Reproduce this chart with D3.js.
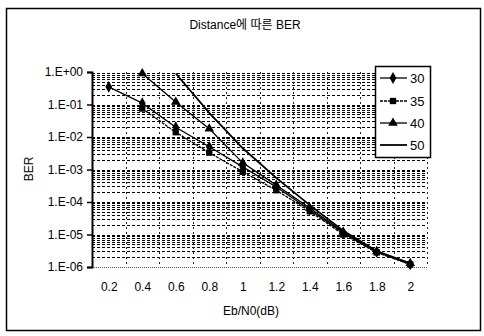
<!DOCTYPE html>
<html><head><meta charset="utf-8">
<script src="https://cdn.jsdelivr.net/npm/d3@7"></script>
<style>body{margin:0;background:#fff}svg{display:block}text{font-family:"Liberation Sans",Arial,sans-serif;fill:#000}</style>
</head><body><svg id="c" width="484" height="336"></svg>
<script>
const ebn0 = [0.2,0.4,0.6,0.8,1.0,1.2,1.4,1.6,1.8,2.0];
const xTickLabels = ["0.2","0.4","0.6","0.8","1","1.2","1.4","1.6","1.8","2"];
const yTickLabels = ["1.E+00","1.E-01","1.E-02","1.E-03","1.E-04","1.E-05","1.E-06"];
const seriesNames = ["30","35","40","50"];
const ber30 = [3.5e-1,1.1e-1,2.0e-2,5.0e-3,1.2e-3,2.9e-4,5.8e-5,1.1e-5,2.9e-6,1.2e-6];
const ber35 = [null,7.5e-2,1.4e-2,3.3e-3,8.5e-4,2.3e-4,5.2e-5,1.0e-5,2.8e-6,1.2e-6];
const ber40 = [null,9.0e-1,1.2e-1,1.8e-2,1.6e-3,3.3e-4,6.5e-5,1.2e-5,3.0e-6,1.3e-6];
const ber50 = [null,null,9.0e-1,5.5e-2,4.5e-3,5.5e-4,8.0e-5,1.3e-5,3.1e-6,1.3e-6];
const titleText = "Distance에 따른 BER";
const xTitle = "Eb/N0(dB)";
const yTitle = "BER";

const svg = d3.select("#c");
const L=92, R=427, T=72, B=267;
const x = d3.scaleLinear().domain([0.1,2.1]).range([L,R]);
const y = d3.scaleLog().domain([1e-6,1]).range([B,T]);

svg.append("rect").attr("x",6.5).attr("y",8.5).attr("width",474).attr("height",322)
  .attr("fill","none").attr("stroke","#000").attr("stroke-width",1.5);

// horizontal gridlines
const hvals=[];
for(let n=-6;n<0;n++){for(let k=1;k<10;k++){const v=k*Math.pow(10,n); if(v>1e-6) hvals.push(v);}}
svg.append("g").selectAll("line").data(hvals).join("line")
  .attr("x1",L).attr("x2",R).attr("y1",d=>Math.round(y(d))+0.5).attr("y2",d=>Math.round(y(d))+0.5)
  .attr("stroke","#000").attr("stroke-width",1).attr("stroke-dasharray","3,2");
// vertical gridlines
const vvals=d3.range(1,11).map(i=>0.1+0.2*i);
svg.append("g").selectAll("line").data(vvals).join("line")
  .attr("x1",d=>Math.round(x(d))+0.5).attr("x2",d=>Math.round(x(d))+0.5).attr("y1",T).attr("y2",B)
  .attr("stroke","#222").attr("stroke-width",1).attr("stroke-dasharray","2,3");
// bottom axis (dotted)
svg.append("line").attr("x1",L).attr("x2",R).attr("y1",B+0.5).attr("y2",B+0.5)
  .attr("stroke","#555").attr("stroke-dasharray","1,1");

// y axis
const yAxis = d3.axisLeft(y).tickValues(d3.range(0,7).map(i=>Math.pow(10,-i)))
  .tickFormat((d,i)=>yTickLabels[i]).tickSize(5).tickPadding(4);
const gy = svg.append("g").attr("transform",`translate(${L},0)`).call(yAxis);
gy.select(".domain").attr("stroke","#000").attr("stroke-width",2);
gy.selectAll(".tick line").attr("stroke","#000").attr("stroke-width",1.5);
gy.selectAll("text").attr("font-size",12).attr("font-family","Liberation Sans, Arial, sans-serif");

// x axis labels
const xAxis = d3.axisBottom(x).tickValues(ebn0).tickFormat((d,i)=>xTickLabels[i]).tickSize(0).tickPadding(15);
const gx = svg.append("g").attr("transform",`translate(0,${B})`).call(xAxis);
gx.select(".domain").remove();
gx.selectAll("text").attr("font-size",12).attr("font-family","Liberation Sans, Arial, sans-serif");

// series
const series=[
  {name:seriesNames[0],vals:ber30,marker:d3.symbolDiamond,dash:null,w:1.3},
  {name:seriesNames[1],vals:ber35,marker:d3.symbolSquare,dash:"3,1",w:1.3},
  {name:seriesNames[2],vals:ber40,marker:d3.symbolTriangle,dash:null,w:1.3},
  {name:seriesNames[3],vals:ber50,marker:null,dash:null,w:1.8}
];
const line=d3.line().defined(d=>d[1]!=null).x(d=>x(d[0])).y(d=>y(d[1]));
series.forEach(s=>{
  const pts=ebn0.map((e,i)=>[e,s.vals[i]]);
  svg.append("path").datum(pts).attr("d",line).attr("fill","none").attr("stroke","#000")
    .attr("stroke-width",s.w).attr("stroke-dasharray",s.dash);
  if(s.marker){
    svg.append("g").selectAll("path").data(pts.filter(p=>p[1]!=null)).join("path")
      .attr("transform",p=>`translate(${x(p[0])},${y(p[1])})`)
      .attr("d",d3.symbol().type(s.marker).size(40)).attr("fill","#000");
  }
});

// legend
const lg=svg.append("g");
lg.append("rect").attr("x",375.5).attr("y",66.5).attr("width",55).attr("height",91)
  .attr("fill","#fff").attr("stroke","#000").attr("stroke-width",1.5);
const ly=[78,101,123,145];
series.forEach((s,i)=>{
  lg.append("line").attr("x1",380).attr("x2",407).attr("y1",ly[i]).attr("y2",ly[i])
    .attr("stroke","#000").attr("stroke-width",s.w).attr("stroke-dasharray",s.dash);
  if(s.marker) lg.append("path").attr("transform",`translate(393,${ly[i]})`)
    .attr("d",d3.symbol().type(s.marker).size(40)).attr("fill","#000");
  lg.append("text").attr("x",410).attr("y",ly[i]).attr("dy","0.36em").attr("font-size",13).text(s.name);
});

// titles
svg.append("text").attr("x",245).attr("y",29).attr("text-anchor","middle").attr("font-size",12)
  .style("font-family","'Liberation Sans', 'Noto Sans CJK KR', sans-serif").text(titleText);
svg.append("text").attr("x",251).attr("y",315).attr("text-anchor","middle").attr("font-size",12).text(xTitle);
svg.append("text").attr("transform","translate(33,169) rotate(-90)").attr("text-anchor","middle").attr("font-size",12).text(yTitle);
</script></body></html>
